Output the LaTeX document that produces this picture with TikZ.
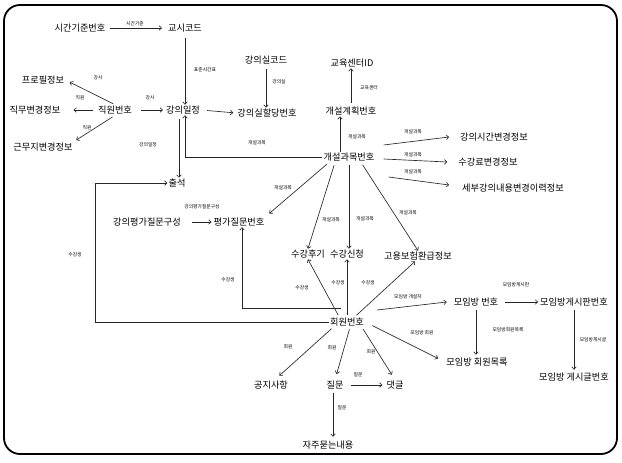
\documentclass[tikz,border=0pt]{standalone}
\usepackage{fontspec}
\setmainfont{Noto Sans CJK KR}
\usetikzlibrary{arrows.meta,calc}
\begin{document}
\begin{tikzpicture}[x=1pt,y=-1pt,
 t/.style={inner sep=1pt,font=\fontsize{9.2}{11}\selectfont,text=black},
 lb/.style={inner sep=0pt,font=\fontsize{4.8}{5}\selectfont,text=black},
 arr/.style={draw=black!85,line width=0.65pt,-{To[length=3pt,width=5pt]}},
 frame/.style={draw=black,line width=1.8pt,rounded corners=16pt}]
\useasboundingbox (0,0) rectangle (622,463);
\draw[frame] (4,5) rectangle (617,454);
% nodes
\node[t] (sgb) at (80,28) {시간기준번호};
\node[t] (gsc) at (185,28) {교시코드};
\node[t] (gsr) at (266,60) {강의실코드};
\node[t] (edu) at (352,63) {교육센터ID};
\node[t] (prof) at (43,80) {프로필정보};
\node[t] (jmb) at (35,110) {직무변경정보};
\node[t] (jwb) at (115,110) {직원번호};
\node[t] (gij) at (183,110) {강의일정};
\node[t] (gsh) at (267,113) {강의실할당번호};
\node[t] (gkb) at (351,111) {개설계획번호};
\node[t] (gmj) at (43,147) {근무지변경정보};
\node[t] (kgm) at (349,157) {개설과목번호};
\node[t] (gtc) at (494,137) {강의시간변경정보};
\node[t] (srb) at (488,162) {수강료변경정보};
\node[t] (sbg) at (513,188) {세부강의내용변경이력정보};
\node[t] (chul) at (177,183) {출석};
\node[t] (gpq) at (147,222) {강의평가질문구성};
\node[t] (pq) at (239,222) {평가질문번호};
\node[t] (shg) at (308,254) {수강후기};
\node[t] (ssc) at (347,254) {수강신청};
\node[t] (gbh) at (418,256) {고용보험환급정보};
\node[t] (hwb) at (347,322) {회원번호};
\node[t] (mrb) at (476,302) {모임방 번호};
\node[t] (mgp) at (574,302) {모임방게시판번호};
\node[t] (mhm) at (477,362) {모임방 회원목록};
\node[t] (mgg) at (574,377) {모임방 게시글번호};
\node[t] (gji) at (271,385) {공지사항};
\node[t] (jm) at (335,385) {질문};
\node[t] (dg) at (395,385) {댓글};
\node[t] (jjm) at (328,445) {자주묻는내용};
\coordinate (lcorner) at (95,320);
% connectors
\draw[arr,shorten <=3pt,shorten >=5pt] (sgb) -- (gsc);
\draw[arr,shorten <=5pt] (gsc.south) -- (gsc.south |- gij.north);
\draw[arr,shorten <=4pt] (gsr.south) -- (gsr.south |- gsh.north);
\draw[arr,shorten <=3pt] (gkb.north) -- (gkb.north |- edu.south);
\draw[arr] ([xshift=-9pt]kgm.north) -- ([xshift=-11pt]gkb.south);
\draw[arr,shorten <=2pt,shorten >=5pt] (jwb.north) -- (prof.east);
\draw[arr,shorten <=4pt,shorten >=12pt] (jwb.west) -- (jmb.east);
\draw[arr,shorten <=3pt,shorten >=3pt] (jwb.south) -- (gmj.north east);
\draw[arr,shorten <=8pt,shorten >=2pt] (jwb.east) -- (gij.west);
\draw[arr,shorten <=6pt,shorten >=3pt] (gij.east) -- (gsh.west);
\draw[arr,shorten <=4pt] ([xshift=2pt]chul.north |- gij.south) -- ([xshift=2pt]chul.north);
\draw[arr] (kgm.west) -| ([xshift=2pt]gij.south);
\draw[arr] (hwb.west) -- (hwb.west -| lcorner) |- (chul.west);
\draw[arr] ([xshift=-6pt,yshift=8pt]hwb.north) -| ([xshift=3pt]pq.south);
\draw[arr,shorten <=3pt,shorten >=5pt] ([xshift=-20pt]kgm.south) -- (pq.north east);
\draw[arr,shorten <=3pt] ([xshift=-14pt]kgm.south) -- (shg.north);
\draw[arr,shorten <=3pt] (kgm.south) -- (kgm.south |- ssc.north);
\draw[arr,shorten <=3pt] ([xshift=12pt]kgm.south) -- (gbh.north);
\draw[arr] ($(kgm.east)+(8,-12)$) -- ($(gtc.west)+(-10,0)$);
\draw[arr] ($(kgm.east)+(8,2)$) -- ($(srb.west)+(-10,0)$);
\draw[arr] ($(kgm.east)+(13,20)$) -- ($(sbg.west)+(-12,-3)$);
\draw[arr,shorten <=10pt,shorten >=1pt] (gpq.east) -- (pq.west);
\draw[arr,shorten <=2pt] ([xshift=-8pt]hwb.north) -- (shg.south);
\draw[arr,shorten <=2pt] (hwb.north) -- (hwb.north |- ssc.south);
\draw[arr,shorten <=2pt] ([xshift=8pt]hwb.north) -- ([xshift=-3pt]gbh.south);
\draw[arr] ($(hwb.east)+(12,-12)$) -- ($(mrb.west)+(-6,0)$);
\draw[arr,shorten <=8pt,shorten >=8pt] (hwb.east) -- (mhm.west);
\draw[arr,shorten <=3pt,shorten >=2pt] (mrb.south) -- (mrb.south |- mhm.north);
\draw[arr,shorten <=6pt,shorten >=1pt] (mrb.east) -- (mgp.west);
\draw[arr,shorten <=3pt,shorten >=2pt] (mgp.south) -- (mgp.south |- mgg.north);
\draw[arr,shorten <=2pt,shorten >=6pt] ([xshift=-14pt]hwb.south) -- ([xshift=4pt]gji.north);
\draw[arr,shorten <=2pt,shorten >=6pt] ([xshift=3pt]hwb.south) -- (jm.north);
\draw[arr,shorten <=2pt,shorten >=6pt] ([xshift=15pt]hwb.south) -- (dg.north);
\draw[arr,shorten <=6pt,shorten >=3pt] (jm.east) -- (dg.west);
\draw[arr,shorten <=3pt,shorten >=3pt] ([xshift=-2pt]jm.south) -- ([xshift=-2pt]jm.south |- jjm.north);
% handwritten-style labels
\node[lb] (l1) at (135,24) {시간기준};
\node[lb] (l2) at (205,70) {표준시간표};
\node[lb] (l3) at (279,82) {강의실};
\node[lb] (l4) at (369,88) {교육센터};
\node[lb] (l5) at (98,78) {강사};
\node[lb] (l6) at (80,98) {직원};
\node[lb] (l7) at (87,128) {직원};
\node[lb] (l8) at (150,98) {강사};
\node[lb] (l9) at (148,145) {강의일정};
\node[lb] (l10) at (202,207) {강의평가질문구성};
\node[lb] (k1) at (413,132) {개설과목};
\node[lb] (k2) at (413,155) {개설과목};
\node[lb] (k3) at (413,172) {개설과목};
\node[lb] (k4) at (357,137) {개설과목};
\node[lb] (k5) at (257,143) {개설과목};
\node[lb] (k6) at (283,188) {개설과목};
\node[lb] (k7) at (331,220) {개설과목};
\node[lb] (k8) at (365,219) {개설과목};
\node[lb] (k9) at (408,213) {개설과목};
\node[lb] (s1) at (75,255) {수강생};
\node[lb] (s2) at (228,280) {수강생};
\node[lb] (s3) at (302,288) {수강생};
\node[lb] (s4) at (338,283) {수강생};
\node[lb] (s5) at (368,283) {수강생};
\node[lb] (m1) at (408,297) {모임방 개설자};
\node[lb] (m2) at (422,333) {모임방 회원};
\node[lb] (m3) at (508,330) {모임방회원목록};
\node[lb] (m4) at (516,285) {모임방게시판};
\node[lb] (m5) at (593,340) {모임방게시글};
\node[lb] (h1) at (288,347) {회원};
\node[lb] (h2) at (332,348) {회원};
\node[lb] (h3) at (371,352) {회원};
\node[lb] (q1) at (358,375) {질문};
\node[lb] (q2) at (342,408) {질문};
\end{tikzpicture}
\end{document}
